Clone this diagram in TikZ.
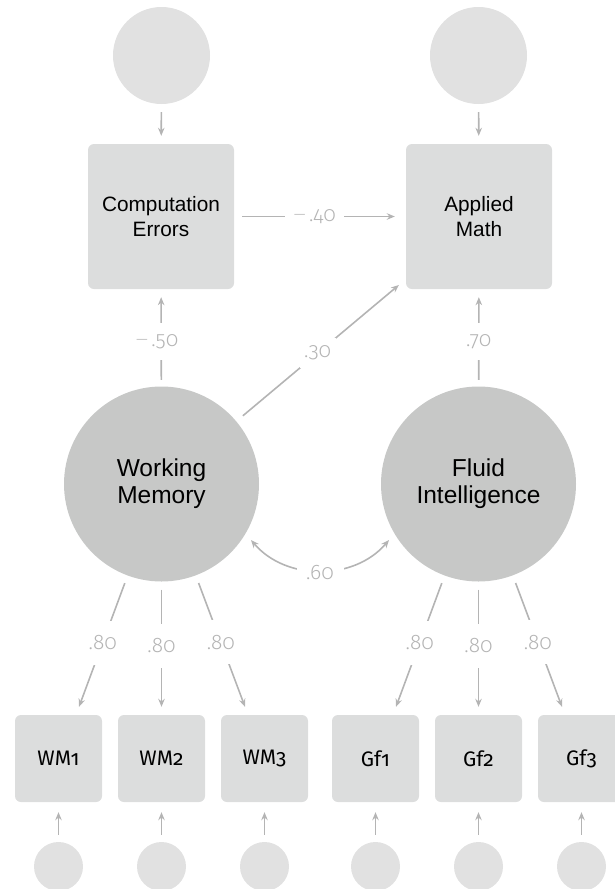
\documentclass[tikz,border=0pt]{standalone}
\usepackage{fontspec}
\setmainfont{Liberation Sans}
\newfontfamily\numfont[Numbers=OldStyle]{Fira Sans}
\newfontfamily\lblfont[Numbers=OldStyle]{Fira Sans Light}
\usetikzlibrary{arrows.meta,calc}
\definecolor{boxc}{HTML}{DCDDDD}
\definecolor{bigc}{HTML}{C7C8C7}
\definecolor{errc}{HTML}{E1E1E1}
\definecolor{linec}{HTML}{B4B4B4}
\newcommand{\negdash}{\raisebox{1.5pt}{\fontsize{15}{15}\selectfont —}}
\tikzset{
  obsbox/.style={rectangle, rounded corners=6pt, fill=boxc, inner sep=0pt},
  bigbox/.style={obsbox, minimum width=146pt, minimum height=145pt, align=center,
    font=\fontsize{20.8}{25}\selectfont},
  indbox/.style={obsbox, minimum width=87pt, minimum height=87pt,
    font=\numfont\fontsize{21}{24}\selectfont},
  latent/.style={circle, fill=bigc, minimum size=195pt, inner sep=0pt, align=center,
    font=\fontsize{24.5}{27}\selectfont},
  errbig/.style={circle, fill=errc, minimum size=97pt, inner sep=0pt},
  errsmall/.style={circle, fill=errc, minimum size=49pt, inner sep=0pt},
  conn/.style={draw=linec, line width=1.6pt, -{Stealth[length=8pt,width=6.5pt]}},
  biconn/.style={draw=linec, line width=1.6pt, {Stealth[length=8pt,width=6.5pt]}-{Stealth[length=8pt,width=6.5pt]}},
  lbl/.style={fill=white, inner sep=0pt, text=linec, font=\lblfont\fontsize{21}{24}\selectfont}
}
\begin{document}
\begin{tikzpicture}[x=1pt, y=-1pt]
\useasboundingbox (0,0) rectangle (614,889);
% top error circles
\node[errbig] (e1) at (161.5,55.5) {};
\node[errbig] (e2) at (478.5,55.5) {};
% observed outcome boxes
\node[bigbox] (CE) at (161,216.5) {Computation\\Errors};
\node[bigbox] (AM) at (479,216.5) {Applied\\Math};
% latent variables
\node[latent] (WM) at (161.5,484) {Working\\Memory};
\node[latent] (FI) at (478.5,484) {Fluid\\Intelligence};
% indicators
\node[indbox] (WM1) at (58.5,758.5) {WM1};
\node[indbox] (WM2) at (161.5,758.5) {WM2};
\node[indbox] (WM3) at (264.5,758.5) {WM3};
\node[indbox] (Gf1) at (375.5,758.5) {Gf1};
\node[indbox] (Gf2) at (478.5,758.5) {Gf2};
\node[indbox] (Gf3) at (581.5,758.5) {Gf3};
% small error circles
\foreach \n/\x in {d1/58.5, d2/161.5, d3/264.5, d4/375.5, d5/478.5, d6/581.5}
  \node[errsmall] (\n) at (\x,866.5) {};
% coordinates
\coordinate (amw) at ($(AM.south west)+(0,-10)$);
\coordinate (t1) at ($(WM1.north)+(20.5,-8)$);
\coordinate (t2) at ($(WM2.north)+(0,-8)$);
\coordinate (t3) at ($(WM3.north)+(-19.5,-8)$);
\coordinate (t4) at ($(Gf1.north)+(20.5,-8)$);
\coordinate (t5) at ($(Gf2.north)+(0,-8)$);
\coordinate (t6) at ($(Gf3.north)+(-19.5,-8)$);
\coordinate (c1) at ($(WM)+(89.5,56)$);
\coordinate (c2) at ($(FI)+(-89.5,56)$);
% error arrows
\draw[conn, shorten <=8pt, shorten >=8pt] (e1) -- (CE);
\draw[conn, shorten <=8pt, shorten >=8pt] (e2) -- (AM);
\foreach \d/\b in {d1/WM1, d2/WM2, d3/WM3, d4/Gf1, d5/Gf2, d6/Gf3}
  \draw[conn, shorten <=7pt, shorten >=10pt] (\d) -- (\b);
% structural paths
\draw[conn, shorten <=8pt, shorten >=11pt] (CE) -- node[lbl, pos=0.47, minimum width=59pt, minimum height=20pt] {\negdash\,.40} (AM);
\draw[conn, shorten <=6.5pt, shorten >=8pt] (WM) -- node[lbl, pos=0.46, minimum height=37pt, minimum width=44pt, xshift=-4pt] {\negdash\,.50} (CE);
\draw[conn, shorten <=6.5pt, shorten >=8pt] (FI) -- node[lbl, pos=0.46, minimum height=37pt, minimum width=30pt] {.70} (AM);
\draw[conn, shorten <=8.5pt, shorten >=9pt] (WM) -- node[lbl, pos=0.48, minimum width=36pt, minimum height=30pt] {.30} (amw);
% covariance
\draw[biconn] (c1) .. controls +(35,41) and +(-35,41) .. node[lbl, pos=0.5, minimum width=47pt, minimum height=20pt, yshift=-2pt] {.60} (c2);
% loadings
\foreach \t in {t1,t2,t3}
  \draw[conn, shorten <=8pt] (WM) -- node[lbl, pos=0.51, minimum width=30pt, minimum height=44pt] {.80} (\t);
\foreach \t in {t4,t5,t6}
  \draw[conn, shorten <=8pt] (FI) -- node[lbl, pos=0.51, minimum width=30pt, minimum height=44pt] {.80} (\t);
\end{tikzpicture}
\end{document}
